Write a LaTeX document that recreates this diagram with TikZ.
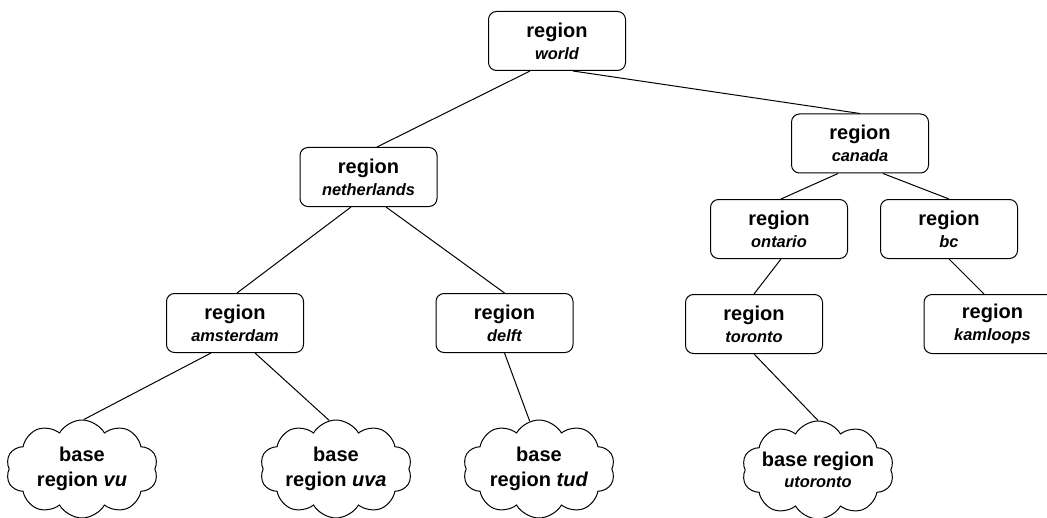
\documentclass[tikz,border=0pt]{standalone}
\usepackage{fontspec}
\setmainfont{Liberation Sans}
\usetikzlibrary{positioning,shapes.symbols}

\newcommand{\placename}[1]{{\fontsize{8.2}{9.5}\selectfont\bfseries\itshape #1}}

\begin{document}
\begin{tikzpicture}[
					line width=0.5pt,
					regionbox/.style={rectangle, draw=black, rounded corners=4pt, minimum width=68.5pt, minimum height=29.5pt, inner sep=1pt, align=center, font=\fontsize{10}{11}\selectfont\bfseries},
					basecloud/.style={cloud, draw=black, cloud puffs=10, cloud puff arc=120, cloud ignores aspect, minimum width=76pt, minimum height=49pt, inner sep=-12pt, align=center, font=\fontsize{10}{12.5}\selectfont\bfseries}
				]
				\useasboundingbox (0pt,0pt) rectangle (523.5pt,-259pt);
				\clip (0pt,0pt) rectangle (523.5pt,-259pt);
				\node[regionbox] (world) at (278.5pt,-20.5pt) {region\\\placename{world}};
				\node[regionbox] (netherlands) [below left=38pt and 25.25pt of world] {region\\\placename{netherlands}};
				\node[regionbox] (canada) [below right=21.25pt and 82.5pt of world] {region\\\placename{canada}};
				\node[regionbox] (ontario) [below=12.75pt of canada, xshift=-40.5pt] {region\\\placename{ontario}};
				\node[regionbox] (bc) [below=12.75pt of canada, xshift=44.5pt] {region\\\placename{bc}};
				\node[regionbox] (amsterdam) [below=43pt of netherlands, xshift=-66.75pt] {region\\\placename{amsterdam}};
				\node[regionbox] (delft) [below=43pt of netherlands, xshift=68pt] {region\\\placename{delft}};
				\node[regionbox] (toronto) [below=17.5pt of ontario, xshift=-12.5pt] {region\\\placename{toronto}};
				\node[regionbox] (kamloops) [below=17.5pt of bc, xshift=21.75pt] {region\\\placename{kamloops}};
				\node[basecloud] (vu) [below=33.25pt of amsterdam, xshift=-76.5pt] {base\\region \textit{vu}};
				\node[basecloud] (uva) [below=33.25pt of amsterdam, xshift=50.5pt] {base\\region \textit{uva}};
				\node[basecloud] (tud) [below=33.25pt of delft, xshift=17.25pt] {base\\region \textit{tud}};
				\node[basecloud] (utoronto) [below=33.25pt of toronto, xshift=32pt] {base region\\[-2pt]\placename{utoronto}};
				\draw ([xshift=-13.5pt]world.south) -- ([xshift=4.25pt]netherlands.north);
				\draw ([xshift=8pt]world.south) -- (canada.north);
				\draw ([xshift=-11pt]canada.south) -- ([xshift=1pt]ontario.north);
				\draw ([xshift=11.5pt]canada.south) -- (bc.north);
				\draw ([xshift=-8.75pt]netherlands.south) -- ([xshift=1pt]amsterdam.north);
				\draw ([xshift=8.75pt]netherlands.south) -- (delft.north);
				\draw ([xshift=1pt]ontario.south) -- (toronto.north);
				\draw (bc.south) -- ([xshift=-4.25pt]kamloops.north);
				\draw ([xshift=-12pt]amsterdam.south) -- (vu.88);
				\draw ([xshift=10pt]amsterdam.south) -- (uva.98);
				\draw (delft.south) -- (tud.101);
				\draw (toronto.south) -- (utoronto.north);
				\end{tikzpicture}
\end{document}
